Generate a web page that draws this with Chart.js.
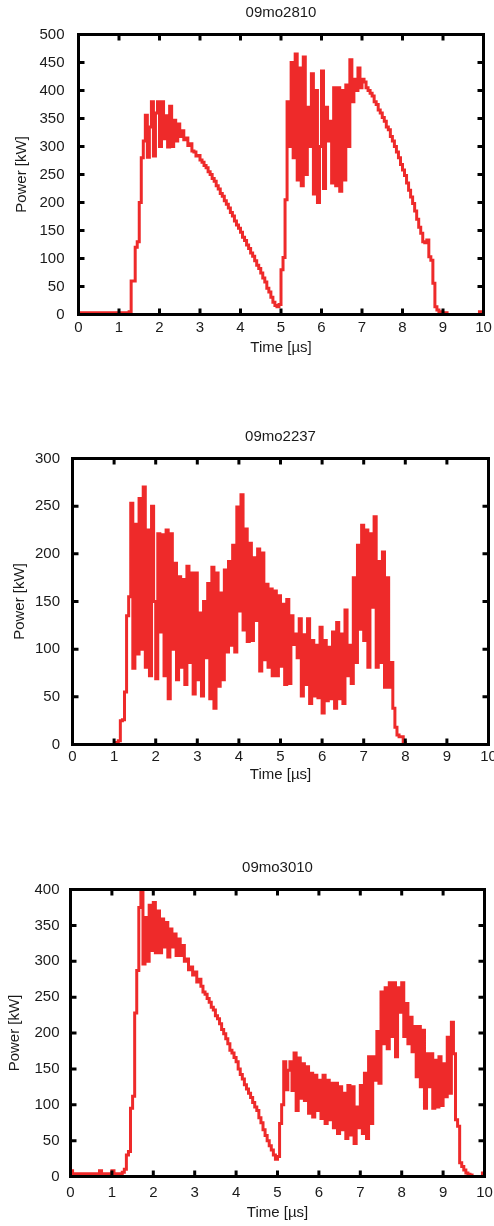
<!DOCTYPE html>
<html>
<head>
<meta charset="utf-8">
<script src="https://cdn.jsdelivr.net/npm/chart.js@4.4.1/dist/chart.umd.min.js"></script>
<style>
  html, body { margin: 0; padding: 0; background: #fff; }
  body { width: 494px; height: 1226px; position: relative; overflow: hidden; }
  canvas { position: absolute; left: 0; }
</style>
</head>
<body>
<canvas id="c1" width="494" height="365" style="top:0px"></canvas>
<canvas id="c2" width="494" height="380" style="top:410px"></canvas>
<canvas id="c3" width="494" height="386" style="top:840px"></canvas>
<script>
// ---------- data ----------
const chartTitles = ['09mo2810', '09mo2237', '09mo3010'];
const xAxisTitle = 'Time [\u00b5s]';
const yAxisTitle = 'Power [kW]';
const xTickValues = [0, 1, 2, 3, 4, 5, 6, 7, 8, 9, 10];
const yMax = [500, 300, 400];
const yStep = [50, 50, 50];

// sample times in microseconds
const timeUs = [
0,0.05,0.1,0.15,0.2,0.25,0.3,0.35,0.4,0.45,0.5,0.55,0.6,0.65,0.7,0.75,0.8,0.85,0.9,0.95,
1,1.05,1.1,1.15,1.2,1.25,1.3,1.35,1.4,1.45,1.5,1.55,1.6,1.65,1.7,1.75,1.8,1.85,1.9,1.95,
2,2.05,2.1,2.15,2.2,2.25,2.3,2.35,2.4,2.45,2.5,2.55,2.6,2.65,2.7,2.75,2.8,2.85,2.9,2.95,
3,3.05,3.1,3.15,3.2,3.25,3.3,3.35,3.4,3.45,3.5,3.55,3.6,3.65,3.7,3.75,3.8,3.85,3.9,3.95,
4,4.05,4.1,4.15,4.2,4.25,4.3,4.35,4.4,4.45,4.5,4.55,4.6,4.65,4.7,4.75,4.8,4.85,4.9,4.95,
5,5.05,5.1,5.15,5.2,5.25,5.3,5.35,5.4,5.45,5.5,5.55,5.6,5.65,5.7,5.75,5.8,5.85,5.9,5.95,
6,6.05,6.1,6.15,6.2,6.25,6.3,6.35,6.4,6.45,6.5,6.55,6.6,6.65,6.7,6.75,6.8,6.85,6.9,6.95,
7,7.05,7.1,7.15,7.2,7.25,7.3,7.35,7.4,7.45,7.5,7.55,7.6,7.65,7.7,7.75,7.8,7.85,7.9,7.95,
8,8.05,8.1,8.15,8.2,8.25,8.3,8.35,8.4,8.45,8.5,8.55,8.6,8.65,8.7,8.75,8.8,8.85,8.9,8.95,
9,9.05,9.1,9.15,9.2,9.25,9.3,9.35,9.4,9.45,9.5,9.55,9.6,9.65,9.7,9.75,9.8,9.85,9.9,9.95,
10];

// power in kW, shot 09mo2810
const power2810 = [
3,3,3,3,3,3,3,3,3,3,3,3,3,3,3,3,3,3,3,3,
3,3,3,3,3,5,60,60,120,130,200,280,310,356,281,335,380,283,360,380,
300,380,314,355,299,372,300,347,310,340,318,328,312,315,302,305,292,290,283,284,
276,272,266,262,255,250,243,238,230,224,216,211,203,197,190,182,176,167,160,154,
147,138,132,124,118,110,104,96,88,82,74,65,58,47,40,31,22,16,14,18,
80,102,205,380,300,450,280,465,240,440,230,460,250,370,300,430,215,400,200,300,
435,225,370,310,345,235,405,230,405,220,400,240,410,300,455,380,420,400,440,405,
420,415,405,400,395,390,380,375,365,360,352,345,335,330,318,310,300,290,280,268,
258,248,235,222,210,198,185,170,156,145,130,128,133,103,97,56,14,8,5,3,
3,3,0,0,0,0,0,0,0,0,0,0,0,0,0,0,0,0,5,0,
0];

// power in kW, shot 09mo2237
const power2237 = [
0,0,0,0,0,0,0,0,0,0,0,0,0,0,0,0,0,0,0,0,
0,2,4,25,26,55,135,155,253,80,231,95,258,100,270,81,225,72,250,150,
69,221,118,220,72,225,48,221,100,190,68,176,81,173,63,187,86,180,53,180,
68,138,51,150,91,169,48,186,38,180,61,159,68,183,97,192,104,209,97,249,
140,262,120,226,108,211,109,196,130,205,77,201,89,168,81,163,72,161,72,156,
82,147,63,152,64,135,105,116,91,132,51,115,63,132,43,109,51,104,49,123,
33,109,46,102,48,118,38,128,48,116,43,141,72,104,64,175,86,209,121,230,
109,225,81,221,144,239,81,192,86,202,60,175,60,86,38,18,10,8,8,2,
0,0,0,0,0,0,0,0,0,0,0,0,0,0,0,0,0,0,0,0,
0,0,0,0,0,0,0,0,0,0,0,0,0,0,0,0,0,0,0,0,
0];

// power in kW, shot 09mo3010
const power3010 = [
8,4,4,4,4,4,4,4,4,4,0,4,4,4,8,4,4,4,4,4,
8,4,4,4,4,6,10,30,35,95,112,228,287,375,403,296,361,300,378,315,
382,312,370,312,359,320,354,306,345,320,338,308,331,308,322,300,303,288,292,281,
285,271,275,265,257,254,248,243,236,232,224,220,213,205,199,192,185,176,172,166,
160,150,142,136,128,122,116,110,103,97,92,82,75,65,57,50,43,37,30,24,
28,74,100,160,121,148,160,120,172,92,165,109,157,106,153,88,144,83,141,92,
134,81,141,74,134,79,130,68,130,60,125,65,116,53,127,58,125,46,97,68,
127,60,144,53,167,74,167,134,202,130,257,185,263,178,270,195,270,167,263,229,
270,195,241,185,222,174,209,139,209,125,204,95,171,125,171,95,162,97,167,99,
157,111,194,116,215,171,79,70,19,14,9,5,3,2,0,0,0,0,0,5,
0];

const seriesList = [power2810, power2237, power3010];

// ---------- layout (per panel) ----------
const panels = [
  { id: 'c1', titlePadTop: 4.3, titlePadBottom: 12.2, yWidth: 78.5, yTitlePad: 12.7, yTickPad: 14, xHeight: 42.8, xTickPad: 4.8, padRight: 10.5, padBottom: 7.7 },
  { id: 'c2', titlePadTop: 17.7, titlePadBottom: 12.8, yWidth: 72.5, yTitlePad: 11, yTickPad: 12.5, xHeight: 39.5, xTickPad: 3.2, padRight: 5.5, padBottom: 6 },
  { id: 'c3', titlePadTop: 19.3, titlePadBottom: 12.2, yWidth: 70.5, yTitlePad: 6, yTickPad: 11, xHeight: 45.8, xTickPad: 7.8, padRight: 9.5, padBottom: 3.7 }
];

const FONT = { family: '"Liberation Sans", Arial, Helvetica, sans-serif', size: 15, lineHeight: 1.2 };
const TEXT = '#1a1a1a';
const LINE = '#ee2a2a';

const framePlugin = {
  id: 'frame',
  afterDatasetsDraw(chart) {
    const { ctx, chartArea: a, scales: { x, y } } = chart;
    const tl = 6;
    ctx.save();
    ctx.strokeStyle = '#000';
    ctx.lineWidth = 3;
    ctx.lineCap = 'butt';
    ctx.beginPath();
    x.ticks.forEach(t => {
      const px = x.getPixelForValue(t.value);
      ctx.moveTo(px, a.bottom); ctx.lineTo(px, a.bottom - tl);
      ctx.moveTo(px, a.top); ctx.lineTo(px, a.top + tl);
    });
    y.ticks.forEach(t => {
      const py = y.getPixelForValue(t.value);
      ctx.moveTo(a.left, py); ctx.lineTo(a.left + tl, py);
      ctx.moveTo(a.right, py); ctx.lineTo(a.right - tl, py);
    });
    ctx.stroke();
    ctx.lineJoin = 'miter';
    ctx.strokeRect(a.left, a.top, a.right - a.left, a.bottom - a.top);
    ctx.restore();
  }
};

panels.forEach((p, i) => {
  new Chart(document.getElementById(p.id), {
    type: 'line',
    data: {
      labels: timeUs,
      datasets: [{
        data: seriesList[i],
        borderColor: LINE,
        borderWidth: 3,
        pointRadius: 0,
        stepped: true,
        fill: false
      }]
    },
    options: {
      responsive: false,
      animation: false,
      events: [],
      layout: { padding: { left: 0, top: 0, right: p.padRight, bottom: p.padBottom } },
      plugins: {
        legend: { display: false },
        tooltip: { enabled: false },
        title: {
          display: true,
          text: chartTitles[i],
          fullSize: false,
          color: TEXT,
          font: { ...FONT, weight: 'normal' },
          padding: { top: p.titlePadTop, bottom: p.titlePadBottom }
        }
      },
      scales: {
        x: {
          type: 'linear',
          min: 0, max: 10,
          grid: { display: false, drawTicks: false },
          border: { display: false },
          afterBuildTicks: s => { s.ticks = xTickValues.map(v => ({ value: v })); },
          ticks: { color: TEXT, font: FONT, padding: p.xTickPad, maxRotation: 0, autoSkip: false },
          title: { display: true, text: xAxisTitle, color: TEXT, font: FONT, padding: { top: 0, bottom: 0 } },
          afterFit: s => { s.height = p.xHeight; s.paddingLeft = 0; s.paddingRight = 0; }
        },
        y: {
          type: 'linear',
          min: 0, max: yMax[i],
          grid: { display: false, drawTicks: false },
          border: { display: false },
          ticks: { color: TEXT, font: FONT, padding: p.yTickPad, stepSize: yStep[i] },
          title: { display: true, text: yAxisTitle, color: TEXT, font: FONT, padding: { top: p.yTitlePad, bottom: 0 } },
          afterFit: s => { s.width = p.yWidth; s.paddingTop = 0; s.paddingBottom = 0; }
        }
      }
    },
    plugins: [framePlugin]
  });
});
</script>
</body>
</html>
